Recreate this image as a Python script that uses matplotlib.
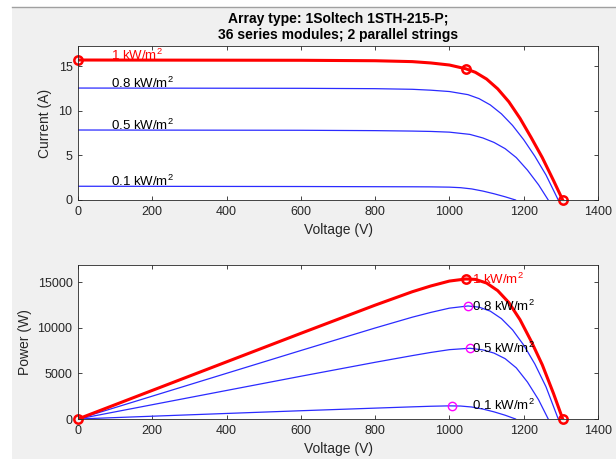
import matplotlib
matplotlib.use('Agg')
import matplotlib.pyplot as plt
from matplotlib.patches import Rectangle
from matplotlib.lines import Line2D

plt.rcParams['font.family'] = ['Liberation Sans', 'DejaVu Sans']
plt.rcParams['mathtext.default'] = 'regular'

# 1 kW/m2 curve (red)
v_1000 = [0, 200, 400, 600, 800, 900, 950, 1000, 1044, 1070, 1100, 1130, 1160, 1190, 1220, 1250, 1280, 1305]
i_1000 = [15.68, 15.67, 15.66, 15.65, 15.6, 15.5, 15.35, 15.12, 14.7, 14.3, 13.55, 12.45, 11.0, 9.15, 7.0, 4.75, 2.2, 0]
p_1000 = [0, 3134, 6264, 9390, 12480, 13950, 14583, 15120, 15347, 15301, 14905, 14069, 12760, 10889, 8540, 5938, 2816, 0]

# 0.8 kW/m2
v_800 = [0, 200, 400, 600, 800, 900, 950, 1000, 1050, 1080, 1110, 1140, 1170, 1200, 1230, 1260, 1293]
i_800 = [12.54, 12.53, 12.52, 12.51, 12.47, 12.4, 12.3, 12.15, 11.8, 11.35, 10.65, 9.65, 8.35, 6.75, 4.9, 2.8, 0]
p_800 = [0, 2506, 5008, 7506, 9976, 11160, 11685, 12150, 12390, 12258, 11822, 11001, 9770, 8100, 6027, 3528, 0]

# 0.5 kW/m2
v_500 = [0, 200, 400, 600, 800, 900, 950, 1000, 1055, 1090, 1120, 1150, 1180, 1210, 1240, 1266]
i_500 = [7.84, 7.83, 7.82, 7.81, 7.77, 7.72, 7.68, 7.6, 7.35, 6.95, 6.45, 5.75, 4.75, 3.35, 1.7, 0]
p_500 = [0, 1566, 3128, 4686, 6216, 6948, 7296, 7600, 7754, 7576, 7224, 6613, 5605, 4054, 2108, 0]

# 0.1 kW/m2
v_100 = [0, 200, 400, 600, 800, 900, 950, 1000, 1030, 1060, 1090, 1120, 1150, 1178]
i_100 = [1.54, 1.53, 1.52, 1.51, 1.49, 1.48, 1.47, 1.44, 1.38, 1.24, 1.0, 0.7, 0.36, 0]
p_100 = [0, 306, 608, 906, 1192, 1332, 1397, 1440, 1421, 1314, 1090, 784, 414, 0]

# marked points on the 1 kW/m2 curve (Isc, MPP, Voc)
key_v = [0, 1044, 1305]
key_i = [15.68, 14.7, 0]
key_p = [0, 15347, 0]

# maximum power points of the other curves
mpp_v = [1051, 1055, 1008]
mpp_p = [12385, 7750, 1460]

labels = ['1 kW/m$^2$', '0.8 kW/m$^2$', '0.5 kW/m$^2$', '0.1 kW/m$^2$']
label_p = [15347, 12385, 7750, 1460]

blue_v = [v_800, v_500, v_100]
blue_i = [i_800, i_500, i_100]
blue_p = [p_800, p_500, p_100]

fig = plt.figure(figsize=(6.16, 4.59), dpi=100)
fig.patch.set_facecolor('white')
fig.add_artist(Rectangle((12 / 616, 0), 1, 452 / 459, transform=fig.transFigure,
                         facecolor='#f0f0f0', edgecolor='none', zorder=-10))
fig.add_artist(Line2D([12 / 616, 1], [452 / 459, 452 / 459], transform=fig.transFigure,
                      color='#a0a0a0', lw=1))

ax1 = fig.add_axes([78 / 616, 259 / 459, 520 / 616, 154 / 459])
ax2 = fig.add_axes([78 / 616, 40 / 459, 520 / 616, 154 / 459])

edge = '#262626'
for ax in (ax1, ax2):
    ax.set_facecolor('white')
    ax.set_xlim(0, 1400)
    ax.set_xticks(range(0, 1401, 200))
    ax.tick_params(direction='in', length=3, width=0.6, top=True, right=True,
                   labelsize=9, colors=edge, pad=4)
    for s in ax.spines.values():
        s.set_color(edge)
        s.set_linewidth(0.6)
    ax.set_xlabel('Voltage (V)', fontsize=10, color=edge, labelpad=4)

# I-V plot
for v, i in zip(blue_v, blue_i):
    ax1.plot(v, i, color='#2b2bff', lw=0.9)
ax1.plot(v_1000, i_1000, color='red', lw=2.2)
ax1.plot(key_v, key_i, 'o', color='red', ms=6, mfc='none', mew=1.8, clip_on=False)
ax1.set_ylim(0, 17.25)
ax1.set_yticks([0, 5, 10, 15])
ax1.set_ylabel('Current (A)', fontsize=10, color=edge)
ax1.yaxis.set_label_coords(-0.05, 0.5)
isc = [i_1000[0], i_800[0], i_500[0], i_100[0]]
for k, (lab, y) in enumerate(zip(labels, isc)):
    ax1.text(90, y, lab, fontsize=9.5, va='baseline', ha='left',
             color='red' if k == 0 else 'black')
ax1.set_title('Array type: 1Soltech 1STH-215-P;\n36 series modules; 2 parallel strings',
              fontsize=10, fontweight='bold', color='black', pad=5)

# P-V plot
for v, p in zip(blue_v, blue_p):
    ax2.plot(v, p, color='#2b2bff', lw=0.9)
ax2.plot(v_1000, p_1000, color='red', lw=2.2)
ax2.plot(key_v, key_p, 'o', color='red', ms=6, mfc='none', mew=1.8, clip_on=False)
ax2.plot(mpp_v, mpp_p, 'o', color='magenta', ms=6, mfc='none', mew=1)
ax2.set_ylim(0, 16880)
ax2.set_yticks([0, 5000, 10000, 15000])
ax2.set_ylabel('Power (W)', fontsize=10, color=edge)
ax2.yaxis.set_label_coords(-0.088, 0.5)
for k, (lab, y) in enumerate(zip(labels, label_p)):
    ax2.text(1062, y, lab, fontsize=9.5, va='center', ha='left', zorder=5,
             color='red' if k == 0 else 'black')

fig.savefig('out.png', dpi=100, facecolor=fig.get_facecolor())
